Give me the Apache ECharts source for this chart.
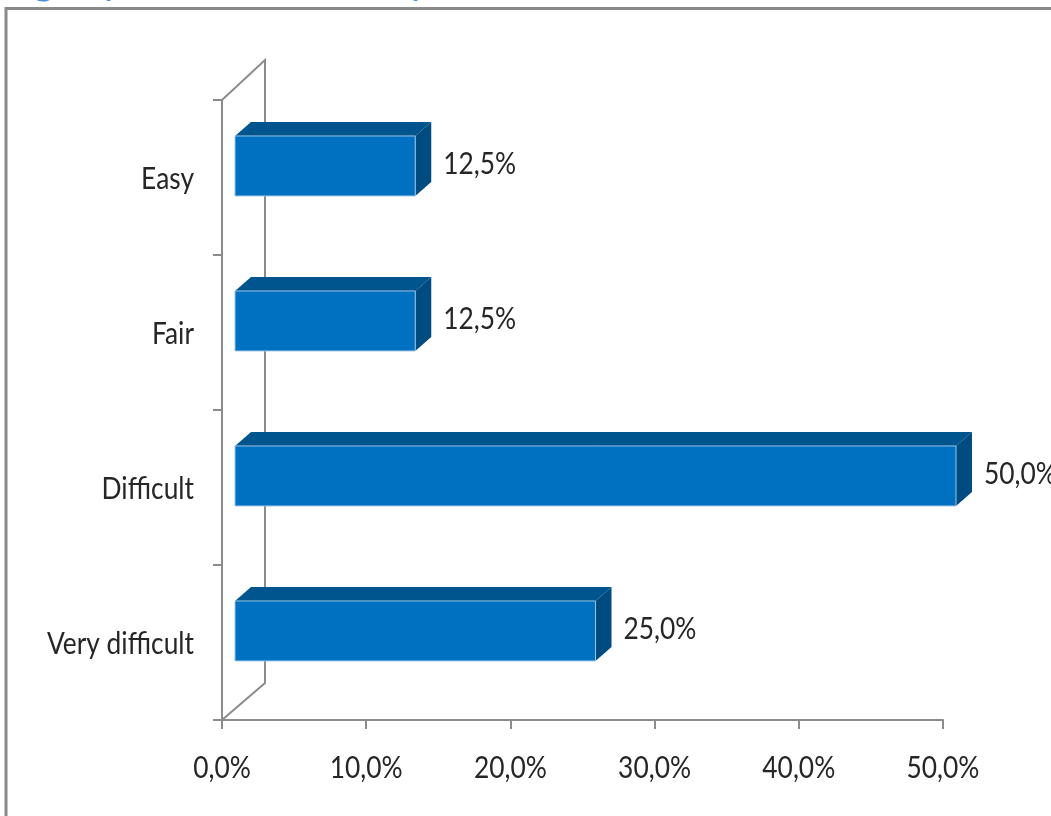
<!DOCTYPE html>
<html>
<head>
<meta charset="utf-8">
<script src="https://cdn.jsdelivr.net/npm/echarts@6/dist/echarts.min.js"></script>
<style>
html,body{margin:0;padding:0;background:#fff;}
#main{width:1051px;height:816px;}
</style>
</head>
<body>
<div id="main"></div>
<script>
const categories = ['Very difficult', 'Difficult', 'Fair', 'Easy'];
const values = [25.0, 50.0, 12.5, 12.5];
const xTickValues = [0, 10, 20, 30, 40, 50];

const FONT = 'Lato, "Open Sans", sans-serif';
const FS = 31;
const SX = 0.85;
const TXT = '#262626';
const fmt = v => v.toFixed(1).replace('.', ',') + '%';

const DX = 16, DY = -14;
const chart = echarts.init(document.getElementById('main'), null, {renderer: 'canvas'});

function renderBar(params, api) {
  const idx = api.value(1);
  const v = api.value(0);
  const p0 = api.coord([0, idx]);
  const p1 = api.coord([v, idx]);
  const band = api.size([0, 1])[1];
  const cy = p0[1];
  const fx0 = p0[0] + 13, fx1 = p1[0] + 13;
  const fy0 = cy - 0.268 * band, fy1 = cy + 0.119 * band;
  return {
    type: 'group',
    children: [
      {type: 'polygon', shape: {points: [[fx0, fy0], [fx0 + DX, fy0 + DY], [fx1 + DX, fy0 + DY], [fx1, fy0]]},
       style: {fill: '#00558f'}},
      {type: 'polygon', shape: {points: [[fx1, fy0], [fx1 + DX, fy0 + DY], [fx1 + DX, fy1 + DY], [fx1, fy1]]},
       style: {fill: '#004b80'}},
      {type: 'rect', shape: {x: fx0, y: fy0, width: fx1 - fx0, height: fy1 - fy0},
       style: {fill: '#0070c0', stroke: '#9cc3e6', lineWidth: 1}},
      {type: 'text', x: fx1 + DX + 12, y: (fy0 + fy1) / 2 - 2, scaleX: SX,
       style: {text: fmt(v), font: FS + 'px ' + FONT, fill: TXT, verticalAlign: 'middle', align: 'left'}}
    ]
  };
}

function renderWall(params, api) {
  const cs = params.coordSys;
  const gx = cs.x, gy = cs.y, gh = cs.height;
  const bx = gx + 43;
  return {
    type: 'polyline',
    shape: {points: [[gx, gy], [bx, gy - 40], [bx, gy + gh - 37], [gx, gy + gh]]},
    style: {stroke: '#8c8c8c', lineWidth: 2, fill: null}
  };
}

function renderCatLabel(params, api) {
  const i = api.value(1);
  const p = api.coord([0, i]);
  return {type: 'text', x: p[0] - 28, y: p[1] + 1, scaleX: SX,
    style: {text: categories[params.dataIndex], font: FS + 'px ' + FONT, fill: TXT, align: 'right', verticalAlign: 'middle'}};
}

function renderTickLabel(params, api) {
  const v = api.value(0);
  const p = api.coord([v, 0]);
  const cs = params.coordSys;
  return {type: 'text', x: p[0], y: cs.y + cs.height + 48, scaleX: SX,
    style: {text: fmt(v), font: FS + 'px ' + FONT, fill: TXT, align: 'center', verticalAlign: 'middle'}};
}

const option = {
  backgroundColor: '#ffffff',
  animation: false,
  grid: {left: 222, right: 108, top: 100, bottom: 96, containLabel: false},
  xAxis: {
    type: 'value', min: 0, max: 50, interval: 10,
    axisLine: {show: true, lineStyle: {color: '#8c8c8c', width: 2}},
    axisTick: {show: true, length: 9, lineStyle: {color: '#8c8c8c', width: 2}},
    splitLine: {show: false},
    axisLabel: {show: false}
  },
  yAxis: {
    type: 'category', data: categories,
    axisLine: {show: true, lineStyle: {color: '#8c8c8c', width: 2}},
    axisTick: {show: true, length: 9, lineStyle: {color: '#8c8c8c', width: 2}},
    axisLabel: {show: false}
  },
  series: [
    {type: 'custom', renderItem: renderWall, data: [[0, 0]], z: 1, silent: true},
    {type: 'custom', renderItem: renderBar, data: values.map((v, i) => [v, i]), encode: {x: 0, y: 1}, z: 5, clip: false},
    {type: 'custom', renderItem: renderCatLabel, data: categories.map((c, i) => [0, i]), encode: {x: 0, y: 1}, z: 6, clip: false, silent: true},
    {type: 'custom', renderItem: renderTickLabel, data: xTickValues.map(v => [v, 0]), encode: {x: 0, y: 1}, z: 6, clip: false, silent: true}
  ],
  graphic: [
    {type: 'rect', shape: {x: 6, y: 8.5, width: 1200, height: 1000}, style: {fill: null, stroke: '#8a8a8a', lineWidth: 3}, z: 100},
    {type: 'text', x: 33, y: 1.5, style: {text: 'g', font: 'bold 40px Lato, sans-serif', fill: '#4a8fe0', verticalAlign: 'bottom'}, z: 99},
    {type: 'text', x: 104, y: 1.5, style: {text: 'p', font: '40px Lato, sans-serif', fill: '#4a8fe0', verticalAlign: 'bottom'}, z: 99},
    {type: 'text', x: 411, y: 1.5, style: {text: 'p', font: '40px Lato, sans-serif', fill: '#4a8fe0', verticalAlign: 'bottom'}, z: 99}
  ]
};
chart.setOption(option);
</script>
</body>
</html>
